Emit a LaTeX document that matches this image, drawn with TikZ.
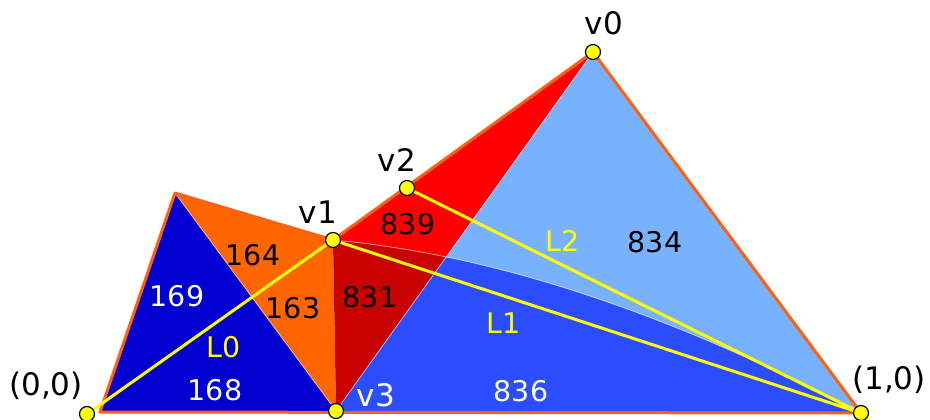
\documentclass[tikz,border=0pt]{standalone}
\usepackage{fontspec}
\setmainfont{DejaVu Sans}
\definecolor{dblue}{RGB}{0,0,208}
\definecolor{orng}{RGB}{255,102,0}
\definecolor{outl}{RGB}{255,96,16}
\definecolor{dred}{RGB}{200,0,0}
\definecolor{bred}{RGB}{255,0,0}
\definecolor{lblue}{RGB}{120,178,255}
\definecolor{mblue}{RGB}{43,77,255}
\definecolor{ylw}{RGB}{255,255,0}
\begin{document}
\begin{tikzpicture}[x=1pt,y=-1pt,
  lab/.style={font=\fontsize{28.5}{30}\selectfont, inner sep=0pt},
  vlab/.style={font=\fontsize{31}{33}\selectfont, inner sep=0pt},
  dot/.style={circle, fill=ylw, draw=black, line width=1.2pt, minimum size=15pt, inner sep=0pt},
  yl/.style={draw=ylw, line width=3pt},
  seam/.style={draw=white, opacity=0.6, line width=0.8pt},
  rim/.style={draw=outl, line width=3pt, line join=round}]
\useasboundingbox (0,0) rectangle (930,420);
\coordinate (A) at (87,414);
\coordinate (B) at (861,413);
\coordinate (T) at (175,193);
\coordinate (L) at (100,412);
\coordinate (v0) at (593,52);
\coordinate (v1) at (333,240);
\coordinate (v2) at (407,188);
\coordinate (v3) at (336,411);
\coordinate (c1) at (509,256);
\coordinate (c2) at (685,322);
% regions
\fill[dblue] (T) -- (L) -- (v3) -- cycle;
\fill[orng] (T) -- (v1) -- (v3) -- cycle;
\begin{scope}
  \clip (v1) -- (v0) -- (v3) -- cycle;
  \fill[dred] (v1) -- (v0) -- (v3) -- cycle;
  \fill[bred] (v1) .. controls (c1) and (c2) .. (B) -- (v0) -- cycle;
\end{scope}
\begin{scope}
  \clip (v0) -- (B) -- (v3) -- cycle;
  \fill[mblue] (v0) -- (B) -- (v3) -- cycle;
  \fill[lblue] (v1) .. controls (c1) and (c2) .. (B) -- (v0) -- cycle;
\end{scope}
% seams
\draw[seam] (T) -- (v3);
\draw[seam] (v0) -- (v3);
\draw[seam] (v1) .. controls (c1) and (c2) .. (B);
% outline
\draw[rim] (T) -- (L) -- (B) -- (v0) -- (v1) -- cycle;
% yellow lines
\draw[yl] (A) -- (v1);
\draw[yl] (v1) -- (B);
\draw[yl] (v2) -- (B);
% dots
\node[dot] (dA) at (A) {};
\node[dot] (dB) at (B) {};
\node[dot] (d0) at (v0) {};
\node[dot] (d1) at (v1) {};
\node[dot] (d2) at (v2) {};
\node[dot] (d3) at (v3) {};
% region labels
\node[lab, text=white] (n169) at (177,296) {169};
\node[lab, text=white] (n168) at (215,390) {168};
\node[lab] (n164) at (253,255) {164};
\node[lab] (n163) at (293,308) {163};
\node[lab, text=ylw] (nL0) at (224,347) {L0};
\node[lab] (n839) at (408,224) {839};
\node[lab] (n831) at (370,297) {831};
\node[lab, text=ylw] (nL1) at (504,323) {L1};
\node[lab, text=ylw] (nL2) at (563,241) {L2};
\node[lab] (n834) at (655,242) {834};
\node[lab, text=white] (n836) at (521,391) {836};
% vertex labels
\node[vlab, text=white] (tv3) at (376,395) {v3};
\node[vlab] (tv0) at (604,23) {v0};
\node[vlab] (tv2) at (397,160) {v2};
\node[vlab] (tv1) at (318,212) {v1};
\node[vlab] (tA) at (46,386) {(0,0)};
\node[vlab] (tB) at (889,380) {(1,0)};
\end{tikzpicture}
\end{document}
